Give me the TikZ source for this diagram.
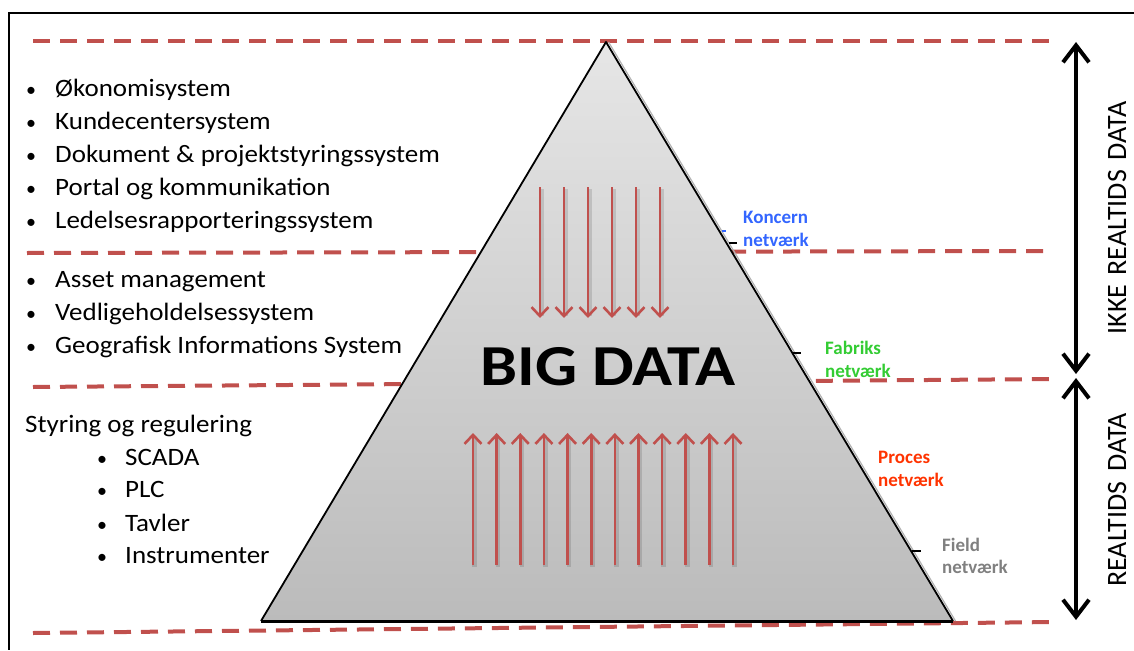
\documentclass[tikz,border=0pt]{standalone}
\usepackage{fontspec}
\setmainfont{Carlito}
\usetikzlibrary{arrows.meta}
\definecolor{dashred}{HTML}{C0504D}
\definecolor{arrred}{HTML}{C0504D}
\definecolor{koncerncol}{HTML}{3366FF}
\definecolor{fabrikscol}{HTML}{33CC33}
\definecolor{procescol}{HTML}{FF3300}
\definecolor{fieldcol}{HTML}{808080}
\definecolor{tritop}{HTML}{E6E6E6}
\definecolor{tribot}{HTML}{BBBBBB}
\begin{document}
\begin{tikzpicture}[x=1pt,y=-1pt,
  sepline/.style={draw=dashred, line width=4pt, dash pattern=on 17pt off 10pt},
  flowarrow/.style={draw=arrred, line width=2.6pt, -{Straight Barb[length=9pt,width=17pt]}},
  flowshadow/.style={draw=black, opacity=0.12, line width=4.5pt},
  spanarrow/.style={draw=black, line width=4pt, {Straight Barb[length=17pt,width=26pt]}-{Straight Barb[length=17pt,width=26pt]}},
  listitem/.style={anchor=base west, inner sep=0pt, font=\fontsize{25}{30}\selectfont},
  bul/.style={anchor=base, inner sep=0pt, font=\fontsize{20}{30}\selectfont},
  netlabel/.style={anchor=base west, inner sep=0pt, font=\bfseries\fontsize{19}{23}\selectfont},
  sidelabel/.style={rotate=90, inner sep=0pt, font=\fontsize{28}{30}\selectfont},
  tick/.style={draw=black, line width=1.5pt},
]
\useasboundingbox (0,0) rectangle (1134,650);
% frame
\draw[line width=2pt] (1134,13) -- (9,13) -- (9,650);
% separator lines
\draw[sepline] (33,41) -- (1055,41);
\draw[sepline] (27,253) -- (1045,251);
\draw[sepline] (33,387) -- (1055,379);
\draw[sepline] (33,633) -- (1055,622);
% pyramid
\coordinate (apex) at (606,42);
\coordinate (bl) at (261,621);
\coordinate (br) at (953,621);
\shade[top color=tritop, bottom color=tribot] (apex) -- (bl) -- (br) -- cycle;
\draw[gray!60, line width=1.2pt] ([xshift=2.5pt]apex) -- ([xshift=2.5pt]br);
\draw[line width=1.8pt, line join=round] (br) -- (apex) -- (bl);
\draw[line width=3pt] (bl) -- (br);
% flow arrows down
\foreach \x in {540,564,588,612,636,660}{
  \draw[flowshadow] (\x+1.5,189) -- (\x+1.5,316);
  \draw[flowarrow] (\x,187) -- (\x,318);
}
% flow arrows up
\foreach \i in {0,...,11}{
  \pgfmathsetmacro{\xx}{473+23.64*\i}
  \draw[flowshadow] (\xx+1.5,567) -- (\xx+1.5,437);
  \draw[flowarrow] (\xx,565) -- (\xx,433);
}
\node[inner sep=0pt, anchor=base, font=\bfseries\fontsize{58}{60}\selectfont] (bigdata) at (608,385) {\scalebox{1.14}[1]{BIG DATA}};
% left lists
\foreach \y/\t [count=\k] in {97/Økonomisystem,129/Kundecentersystem,162/Dokument \& projektstyringssystem,195/Portal og kommunikation,228/Ledelsesrapporteringssystem,287/Asset management,320/Vedligeholdelsessystem,353/Geografisk Informations System}{
  \node[bul] (b\k) at (31,\y) {•};
  \node[listitem] (t\k) at (55,\y) {\scalebox{1.08}[1]{\t}};
}
\node[listitem] (styring) at (25,432) {\scalebox{1.08}[1]{Styring og regulering}};
\foreach \y/\t [count=\k] in {465/SCADA,497/PLC,531/Tavler,563/Instrumenter}{
  \node[bul] (sb\k) at (102,\y) {•};
  \node[listitem] (st\k) at (125,\y) {\scalebox{1.08}[1]{\t}};
}
% network labels
\node[netlabel, text=koncerncol] (kon1) at (743,223) {Koncern};
\node[netlabel, text=koncerncol] (kon2) at (743,246) {netværk};
\node[netlabel, text=fabrikscol] (fab1) at (825,354) {Fabriks};
\node[netlabel, text=fabrikscol] (fab2) at (825,377) {netværk};
\node[netlabel, text=procescol] (pro1) at (878,463) {Proces};
\node[netlabel, text=procescol] (pro2) at (878,486) {netværk};
\node[netlabel, text=fieldcol] (fie1) at (942,551) {Field};
\node[netlabel, text=fieldcol] (fie2) at (942,573) {netværk};
\draw[draw=koncerncol, line width=2pt] (722,231) -- (726,231);
\draw[tick] (729,243) -- (737,243);
\draw[tick] (793,353) -- (801,353);
\draw[tick] (912,551) -- (921,551);
% span arrows
\coordinate (ta) at (1076,42);
\coordinate (tb) at (1076,374);
\coordinate (ba) at (1076,378);
\coordinate (bb) at (1076,620);
\draw[spanarrow] (ta) -- (tb);
\draw[spanarrow] (ba) -- (bb);
\node[sidelabel] (ikke) at (1117,218) {IKKE\hspace{0.1em} REALTIDS\hspace{0.35em}DATA};
\node[sidelabel] (realtid) at (1117,500) {REALTIDS\hspace{0.35em}DATA};
\end{tikzpicture}
\end{document}
